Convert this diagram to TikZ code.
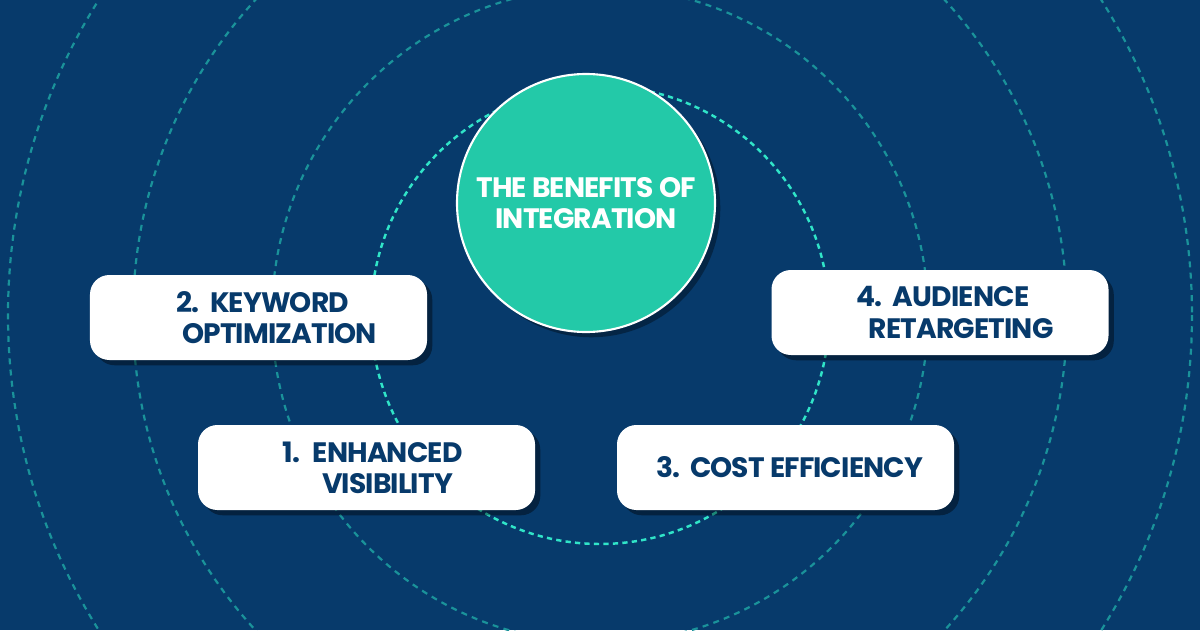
\documentclass[tikz,border=0pt]{standalone}
\usepackage{fontspec}
\setmainfont{Poppins}[LetterSpace=-3]
\usepackage{tikz}
\usetikzlibrary{shadows}
\definecolor{NavyBg}{RGB}{7,58,107}
\definecolor{HubGreen}{RGB}{35,201,168}
\definecolor{RingTeal}{RGB}{26,146,154}
\definecolor{RingBright}{RGB}{48,228,200}

\begin{document}
\begin{tikzpicture}[x=0.2mm, y=-0.2mm,
    ring/.style={RingTeal, line width=1.25pt, dash pattern=on 3.4pt off 3pt},
    innerRing/.style={RingBright, line width=1.4pt, dash pattern=on 3pt off 2.4pt},
    hub/.style={circle, draw=white, line width=1.2pt, fill=HubGreen, minimum size=51.6mm, text=white, align=center,
        font=\bfseries\fontsize{16}{17.4}\selectfont,
        drop shadow={shadow xshift=3pt, shadow yshift=-3pt, opacity=0.35, fill=black}},
    block/.style={rectangle, rounded corners=11pt, fill=white, minimum width=67.4mm, minimum height=17mm,
        drop shadow={shadow xshift=3pt, shadow yshift=-3pt, opacity=0.4, fill=black}},
    item/.style={text=NavyBg, align=center, font=\bfseries\fontsize{16}{17.8}\selectfont}
]
\fill[NavyBg] (0,0) rectangle (1200,630);
\useasboundingbox (0,0) rectangle (1200,630);

% rings
\begin{scope}
  \clip (0,0) rectangle (1200,630);
  \foreach \r in {328,467,592}
    \draw[ring] (600,315) circle[radius=\r];
  \draw[innerRing] (600,315) circle[radius=229];
\end{scope}

\node[hub] (hub) at (586,203) {THE BENEFITS OF\\INTEGRATION};

\node[block] (boxKey) at (258.5,317.5) {};
\node[block] (boxVis) at (366.5,467.5) {};
\node[block] (boxCost) at (785.5,467.5) {};
\node[block] (boxAud) at (940,312.5) {};

\node[item] (keyTxt) at ([xshift=12pt]boxKey.center) {\llap{\makebox[19pt][l]{2.}}KEYWORD\\OPTIMIZATION};
\node[item] (visTxt) at ([xshift=12pt]boxVis.center) {\llap{\makebox[17pt][l]{1.}}ENHANCED\\VISIBILITY};
\node[item] (costTxt) at ([xshift=12pt]boxCost.center) {\llap{\makebox[19pt][l]{3.}}COST EFFICIENCY};
\node[item] (audTxt) at ([xshift=12pt]boxAud.center) {\llap{\makebox[21pt][l]{4.}}AUDIENCE\\RETARGETING};
\end{tikzpicture}
\end{document}
